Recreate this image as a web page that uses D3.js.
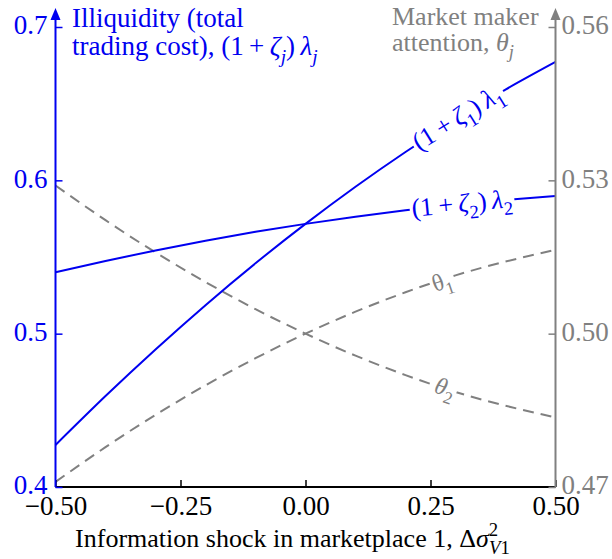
<!DOCTYPE html>
<html><head><meta charset="utf-8">
<script src="https://cdn.jsdelivr.net/npm/d3@7"></script>
<style>
body{margin:0;background:#fff}
text{font-family:"Liberation Serif","Times New Roman",serif}
</style>
</head><body>
<svg id="c" width="612" height="559"></svg>
<script>
// ---- data ----
const shock   = [-0.5,-0.4,-0.3,-0.2,-0.1,0,0.1,0.2,0.3,0.4,0.5];
const illiq1  = [0.4274,0.4593,0.4897,0.5186,0.5459,0.5716,0.5958,0.6185,0.6396,0.6592,0.6772];
const illiq2  = [0.5400,0.5474,0.5543,0.5606,0.5664,0.5716,0.5763,0.5805,0.5841,0.5872,0.5898];
const theta1  = [0.4710,0.4778,0.4841,0.4899,0.4952,0.5000,0.5043,0.5081,0.5114,0.5141,0.5164];
const theta2  = [0.5290,0.5222,0.5159,0.5101,0.5048,0.5000,0.4957,0.4919,0.4886,0.4859,0.4836];
const leftTicks   = [0.4,0.5,0.6,0.7];
const rightTicks  = [0.47,0.50,0.53,0.56];
const bottomTicks = [-0.5,-0.25,0,0.25,0.5];
const labelAt = {l1:0.305, l2:0.313, t1:0.272, t2:0.279};

const BLUE="#0000f0", GRAY="#808080", FS=27;
const svg=d3.select("#c");
const L=55.5,R=555.5,B=487,T=27;
const x=d3.scaleLinear().domain([-0.5,0.5]).range([L,R]);
const yL=d3.scaleLinear().domain([0.4,0.7]).range([B,T]);
const yR=d3.scaleLinear().domain([0.47,0.56]).range([B,T]);

function rich(sel, parts, fs){
  let shift=0;
  parts.forEach(p=>{
    const t=sel.append("tspan").text(p.t);
    const target = p.sub? fs*0.28 : p.sup? -fs*0.42 : 0;
    t.attr("dy", target-shift); shift=target;
    if(p.i) t.attr("font-style","italic");
    if(p.sub||p.sup) t.attr("font-size", fs*0.72);
    if(p.dx!==undefined) t.attr("dx", p.dx);
  });
}

// ---- lines ----
const line=(ys,sc)=>d3.line().curve(d3.curveNatural).x((d,i)=>x(shock[i])).y(d=>sc(d))(ys);
const g=svg.append("g");
g.append("path").attr("d",line(theta1,yR)).attr("fill","none").attr("stroke",GRAY).attr("stroke-width",2).attr("stroke-dasharray","11,7");
g.append("path").attr("d",line(theta2,yR)).attr("fill","none").attr("stroke",GRAY).attr("stroke-width",2).attr("stroke-dasharray","11,7");
g.append("path").attr("d",line(illiq1,yL)).attr("fill","none").attr("stroke",BLUE).attr("stroke-width",2);
g.append("path").attr("d",line(illiq2,yL)).attr("fill","none").attr("stroke",BLUE).attr("stroke-width",2);

// ---- in-line labels ----
function interp(ys,v){ return d3.scaleLinear().domain(shock).range(ys)(v); }
function lineLabel(ys,sc,v,parts,fs,color,off){
  const px=x(v), py=sc(interp(ys,v));
  const p1=[x(v-0.02),sc(interp(ys,v-0.02))], p2=[x(v+0.02),sc(interp(ys,v+0.02))];
  const ang=Math.atan2(p2[1]-p1[1],p2[0]-p1[0])*180/Math.PI;
  const gg=svg.append("g").attr("transform",`translate(${px},${py}) rotate(${ang})`);
  const rect=gg.append("rect").attr("fill","#fff");
  const t=gg.append("text").attr("text-anchor","middle").attr("fill",color).attr("font-size",fs).attr("y",fs*0.3+(off||0));
  rich(t,parts,fs);
  const bb=t.node().getBBox();
  rect.attr("x",bb.x-2).attr("y",-fs*0.35).attr("width",bb.width+4).attr("height",fs*0.7);
}
const sp="\u2009";
lineLabel(illiq1,yL,labelAt.l1,[{t:"(1"+sp+"+"+sp},{t:"ζ",i:1},{t:"1",sub:1},{t:")"+sp},{t:"λ",i:1},{t:"1",sub:1}],26,BLUE);
lineLabel(illiq2,yL,labelAt.l2,[{t:"(1"+sp+"+"+sp},{t:"ζ",i:1},{t:"2",sub:1},{t:")"+sp},{t:"λ",i:1},{t:"2",sub:1}],26,BLUE);
lineLabel(theta1,yR,labelAt.t1,[{t:"θ"},{t:"1",sub:1}],24,GRAY,2);
lineLabel(theta2,yR,labelAt.t2,[{t:"θ",i:1},{t:"2",sub:1}],24,GRAY);

// ---- axes ----
const ax=svg.append("g");
const bottom=ax.append("g").attr("transform",`translate(0,${B})`)
  .call(d3.axisBottom(x).tickValues(bottomTicks).tickFormat(d3.format(".2f")).tickSizeInner(-7).tickSizeOuter(0).tickPadding(9));
bottom.select(".domain").remove();
bottom.attr("font-family",null);
bottom.selectAll("line").attr("stroke","#000").attr("stroke-width",1.5);
bottom.selectAll("text").attr("font-size",FS).attr("fill","#000").attr("dy","0.72em");
ax.append("line").attr("x1",L).attr("x2",R).attr("y1",B).attr("y2",B).attr("stroke","#000").attr("stroke-width",2);

const left=ax.append("g").attr("transform",`translate(${L},0)`)
  .call(d3.axisLeft(yL).tickValues(leftTicks).tickFormat(d3.format(".1f")).tickSizeInner(-7).tickSizeOuter(0).tickPadding(8));
left.select(".domain").remove();
left.attr("font-family",null);
left.selectAll("line").attr("stroke",BLUE).attr("stroke-width",1.5);
left.selectAll("text").attr("font-size",FS).attr("fill",BLUE).attr("dy","0.25em");

const right=ax.append("g").attr("transform",`translate(${R},0)`)
  .call(d3.axisRight(yR).tickValues(rightTicks).tickFormat(d3.format(".2f")).tickSizeInner(-7).tickSizeOuter(0).tickPadding(6));
right.select(".domain").remove();
right.attr("font-family",null);
right.selectAll("line").attr("stroke",GRAY).attr("stroke-width",1.5);
right.selectAll("text").attr("font-size",FS).attr("fill",GRAY).attr("dy","0.25em");

function vAxis(xp,color){
  ax.append("line").attr("x1",xp).attr("x2",xp).attr("y1",B).attr("y2",16).attr("stroke",color).attr("stroke-width",2);
  ax.append("path").attr("d",`M${xp},8 L${xp+5},20 L${xp-5},20 Z`).attr("fill",color);
}
vAxis(L,BLUE); vAxis(R,GRAY);

// ---- titles ----
svg.append("text").attr("x",72).attr("y",27).attr("font-size",27).attr("fill",BLUE).text("Illiquidity (total");
const t2=svg.append("text").attr("x",72).attr("y",55).attr("font-size",27).attr("fill",BLUE);
rich(t2,[{t:"trading cost), (1"+sp+"+"+sp},{t:"ζ",i:1},{t:"j",sub:1,i:1},{t:")"+sp},{t:"λ",i:1},{t:"j",sub:1,i:1}],27);
svg.append("text").attr("x",392).attr("y",25).attr("font-size",26).attr("fill",GRAY).text("Market maker");
const t4=svg.append("text").attr("x",392).attr("y",51).attr("font-size",26).attr("fill",GRAY);
rich(t4,[{t:"attention, "},{t:"θ",i:1},{t:"j",sub:1,i:1}],26);

const xl=svg.append("text").attr("x",(L+R)/2-13).attr("y",547).attr("text-anchor","middle").attr("font-size",26).attr("fill","#000");
rich(xl,[{t:"Information shock in marketplace 1, Δ"},{t:"σ",i:1},{t:"2",sup:1},{t:"V",sub:1,i:1,dx:-9},{t:"1",sub:1}],26);
</script>
</body></html>
